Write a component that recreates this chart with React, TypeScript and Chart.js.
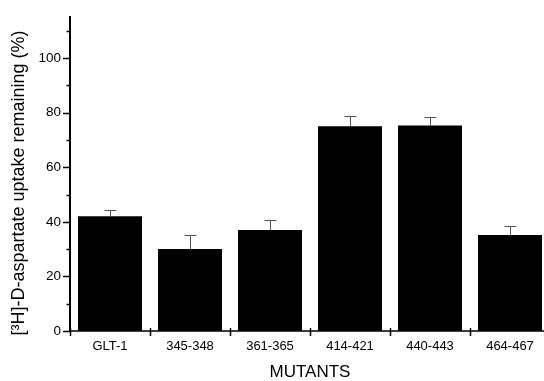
import React, { useEffect, useRef } from "react";
import { Chart, registerables } from "chart.js";

Chart.register(...registerables);

const categories = ["GLT-1", "345-348", "361-365", "414-421", "440-443", "464-467"];
const values = [42, 30, 37, 75, 75.3, 35.2];
const errors = [2.2, 5.3, 3.8, 3.8, 3.0, 3.2];
const yMajorTicks = [0, 20, 40, 60, 80, 100];
const yMinorTicks = [10, 30, 50, 70, 90, 110];
const yTitle = "[³H]-D-aspartate uptake remaining (%)";
const xTitle = "MUTANTS";

const FONT = "'Liberation Sans', Arial, sans-serif";

const customPlugin = {
  id: "custom",
  afterDatasetsDraw(chart: any) {
    const ctx = chart.ctx;
    const x = chart.scales.x;
    const y = chart.scales.y;
    const area = chart.chartArea;
    ctx.save();
    // error bars
    ctx.strokeStyle = "#555";
    ctx.lineWidth = 1;
    const meta = chart.getDatasetMeta(0);
    meta.data.forEach((bar: any, i: number) => {
      const cx = Math.round(bar.x) + 0.5;
      const top = y.getPixelForValue(values[i]);
      const et = Math.round(y.getPixelForValue(values[i] + errors[i])) + 0.5;
      ctx.beginPath();
      ctx.moveTo(cx, top);
      ctx.lineTo(cx, et);
      ctx.moveTo(cx - 6, et);
      ctx.lineTo(cx + 6, et);
      ctx.stroke();
    });
    // y ticks
    ctx.strokeStyle = "#000";
    ctx.lineWidth = 1.5;
    yMajorTicks.forEach((v) => {
      const py = Math.round(y.getPixelForValue(v)) + 0.5;
      ctx.beginPath();
      ctx.moveTo(area.left - 7, py);
      ctx.lineTo(area.left, py);
      ctx.stroke();
    });
    yMinorTicks.forEach((v) => {
      const py = Math.round(y.getPixelForValue(v)) + 0.5;
      ctx.beginPath();
      ctx.moveTo(area.left - 3.5, py);
      ctx.lineTo(area.left, py);
      ctx.stroke();
    });
    // x axis line
    ctx.lineWidth = 1.5;
    ctx.beginPath();
    ctx.moveTo(area.left, area.bottom);
    ctx.lineTo(area.right, area.bottom);
    ctx.stroke();
    // x category boundary ticks
    const step = x.getPixelForValue(1) - x.getPixelForValue(0);
    for (let i = 0; i <= categories.length; i++) {
      const px = Math.round(x.getPixelForValue(0) - step / 2 + i * step) + 0.5;
      ctx.beginPath();
      ctx.moveTo(px, area.bottom - 3);
      ctx.lineTo(px, area.bottom + 5);
      ctx.stroke();
    }
    // y title
    ctx.fillStyle = "#000";
    ctx.font = `18px ${FONT}`;
    ctx.textAlign = "center";
    ctx.textBaseline = "middle";
    ctx.translate(19, 183);
    ctx.rotate(-Math.PI / 2);
    ctx.fillText(yTitle, 0, 0);
    ctx.restore();
    // x title
    ctx.save();
    ctx.fillStyle = "#000";
    ctx.font = `17px ${FONT}`;
    ctx.textAlign = "center";
    ctx.textBaseline = "middle";
    ctx.fillText(xTitle, (area.left + area.right) / 2, 372);
    ctx.restore();
  },
};

export default function App() {
  const ref = useRef<HTMLCanvasElement | null>(null);
  useEffect(() => {
    if (!ref.current) return;
    const chart = new Chart(ref.current, {
      type: "bar",
      data: {
        labels: categories,
        datasets: [
          {
            data: values,
            backgroundColor: "#000",
            borderWidth: 0,
            barPercentage: 0.8,
            categoryPercentage: 1,
          },
        ],
      },
      options: {
        responsive: false,
        animation: false,
        layout: { padding: { top: 14, right: 10, left: 0, bottom: 0 } },
        plugins: { legend: { display: false }, tooltip: { enabled: false } },
        scales: {
          x: {
            grid: { display: false, drawTicks: false },
            border: { display: false },
            ticks: { color: "#000", font: { family: FONT, size: 13 }, padding: 8 },
            afterFit: (s: any) => { s.height = 50; },
          },
          y: {
            min: 0,
            max: 115,
            grid: { display: false, drawTicks: false },
            border: { display: true, color: "#000", width: 2 },
            ticks: {
              stepSize: 20,
              includeBounds: false,
              color: "#000",
              font: { family: FONT, size: 13.5 },
              padding: 9,
            },
            afterFit: (s: any) => { s.width = 70; },
          },
        },
      },
      plugins: [customPlugin],
    } as any);
    return () => chart.destroy();
  }, []);
  return (
    <div style={{ position: "fixed", left: 0, top: 0, width: 544, height: 381, overflow: "hidden", background: "#fff" }}>
      <canvas ref={ref} width={560} height={381} style={{ display: "block" }} />
    </div>
  );
}
